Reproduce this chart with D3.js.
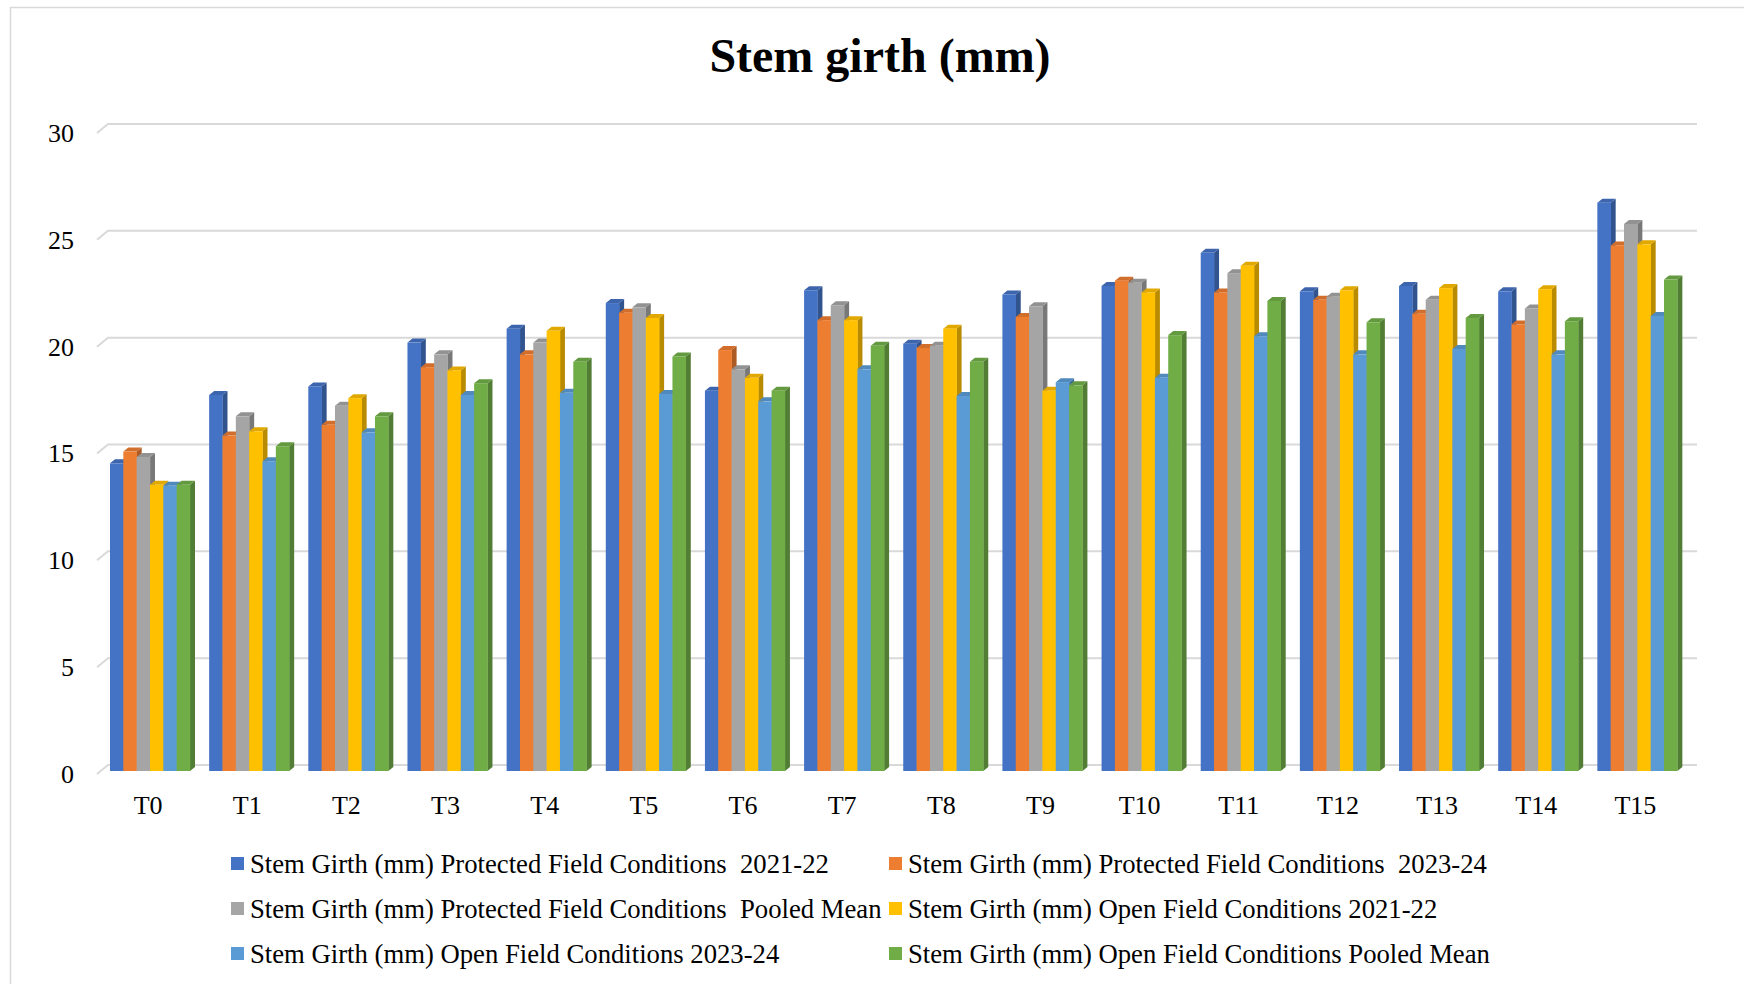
<!DOCTYPE html>
<html>
<head>
<meta charset="utf-8">
<script src="https://cdn.jsdelivr.net/npm/d3@7"></script>
<style>
  html, body { margin: 0; padding: 0; background: #fff; }
  svg { display: block; }
  text { font-family: "Liberation Serif", "Times New Roman", serif; fill: #000; }
</style>
</head>
<body>
<svg id="chart" width="1744" height="984"></svg>
<script>
// Treatments on the x axis
const categories = ["T0","T1","T2","T3","T4","T5","T6","T7","T8","T9","T10","T11","T12","T13","T14","T15"];

// Series names as shown in the legend
const seriesNames = [
  "Stem Girth (mm) Protected Field Conditions  2021-22",
  "Stem Girth (mm) Protected Field Conditions  2023-24",
  "Stem Girth (mm) Protected Field Conditions  Pooled Mean",
  "Stem Girth (mm) Open Field Conditions 2021-22",
  "Stem Girth (mm) Open Field Conditions 2023-24",
  "Stem Girth (mm) Open Field Conditions Pooled Mean"
];

// Stem girth (mm) per treatment
const protected2122   = [14.4, 17.6, 18.0, 20.05, 20.7, 21.9, 17.8, 22.5, 20.0, 22.3, 22.7, 24.25, 22.45, 22.7, 22.45, 26.6];
const protected2324   = [14.95, 15.7, 16.2, 18.9, 19.5, 21.45, 19.7, 21.1, 19.8, 21.25, 22.95, 22.4, 22.05, 21.4, 20.9, 24.6];
const protectedPooled = [14.7, 16.6, 17.1, 19.5, 20.05, 21.7, 18.8, 21.8, 19.9, 21.75, 22.85, 23.3, 22.2, 22.05, 21.65, 25.6];
const open2122        = [13.4, 15.9, 17.45, 18.75, 20.6, 21.2, 18.4, 21.1, 20.7, 17.8, 22.4, 23.65, 22.5, 22.6, 22.55, 24.65];
const open2324        = [13.35, 14.5, 15.85, 17.6, 17.7, 17.65, 17.3, 18.8, 17.55, 18.2, 18.4, 20.35, 19.5, 19.75, 19.5, 21.3];
const openPooled      = [13.4, 15.2, 16.6, 18.15, 19.15, 19.4, 17.8, 19.9, 19.15, 18.05, 20.4, 22.0, 21.0, 21.2, 21.05, 23.0];

const yTicks = [0, 5, 10, 15, 20, 25, 30];

const seriesValues = [protected2122, protected2324, protectedPooled, open2122, open2324, openPooled];
const colors = ["#4472C4", "#ED7D31", "#A5A5A5", "#FFC000", "#5B9BD5", "#70AD47"];

const series = seriesNames.map((name, i) => ({ name, values: seriesValues[i], color: colors[i] }));

const svg = d3.select("#chart");

// outer chart frame
svg.append("rect")
  .attr("x", 10.5).attr("y", 7.5)
  .attr("width", 1760).attr("height", 1000)
  .attr("fill", "none").attr("stroke", "#d9d9d9").attr("stroke-width", 1.5);

// title
svg.append("text")
  .attr("x", 880).attr("y", 72)
  .attr("text-anchor", "middle")
  .style("font-size", "48px").style("font-weight", "bold")
  .text("Stem girth (mm)");

// scales
const y = d3.scaleLinear().domain([0, 30]).range([771, 130]);
const x = d3.scaleBand().domain(categories).range([98.5, 1685]).padding(0);
const xs = d3.scaleBand().domain(d3.range(series.length)).range([11.5, 91.5]).padding(0);

// pseudo-3D offsets (depth towards the back wall)
const dx = 5, dy = 4;
const wallDx = 11, wallDy = 6;

// back-wall gridlines with slanted floor ticks
const grid = svg.append("g");
yTicks.forEach(t => {
  const yy = y(t);
  grid.append("path")
    .attr("d", `M97,${yy + 3}L${97 + wallDx},${yy - wallDy}L1697,${yy - wallDy}`)
    .attr("fill", "none").attr("stroke", "#d9d9d9").attr("stroke-width", 2);
});

// y axis labels
svg.append("g").selectAll("text")
  .data(yTicks).join("text")
  .attr("x", 74).attr("y", d => y(d) + 3)
  .attr("dy", "0.34em")
  .attr("text-anchor", "end")
  .style("font-size", "26px")
  .text(d => d);

// bars
const bars = svg.append("g");
categories.forEach((cat, ci) => {
  series.forEach((s, si) => {
    const v = s.values[ci];
    const x0 = x(cat) + xs(si);
    const w = xs.bandwidth();
    const y0 = y(0);
    const y1 = y(v);
    const base = d3.color(s.color);
    // side face
    bars.append("path")
      .attr("d", `M${x0 + w},${y1}L${x0 + w + dx},${y1 - dy}L${x0 + w + dx},${y0 - dy}L${x0 + w},${y0}Z`)
      .attr("fill", base.darker(0.9));
    // top face
    bars.append("path")
      .attr("d", `M${x0},${y1}L${x0 + dx},${y1 - dy}L${x0 + w + dx},${y1 - dy}L${x0 + w},${y1}Z`)
      .attr("fill", base.darker(0.35));
    // front face
    bars.append("rect")
      .attr("x", x0).attr("y", y1)
      .attr("width", w + 0.3).attr("height", y0 - y1)
      .attr("fill", s.color);
  });
});

// x axis labels
svg.append("g").selectAll("text")
  .data(categories).join("text")
  .attr("x", d => x(d) + x.bandwidth() / 2)
  .attr("y", 814)
  .attr("text-anchor", "middle")
  .style("font-size", "26px")
  .text(d => d);

// legend: three rows, two columns
const legendCols = [231, 889];
const legendRows = [864, 909, 954];
const legend = svg.append("g");
series.forEach((s, i) => {
  const lx = legendCols[i % 2];
  const ly = legendRows[Math.floor(i / 2)];
  legend.append("rect")
    .attr("x", lx).attr("y", ly - 7)
    .attr("width", 13).attr("height", 13)
    .attr("fill", s.color);
  legend.append("text")
    .attr("x", lx + 19).attr("y", ly)
    .attr("dy", "0.34em")
    .style("font-size", "26.7px")
    .style("white-space", "pre")
    .text(s.name);
});
</script>
</body>
</html>
